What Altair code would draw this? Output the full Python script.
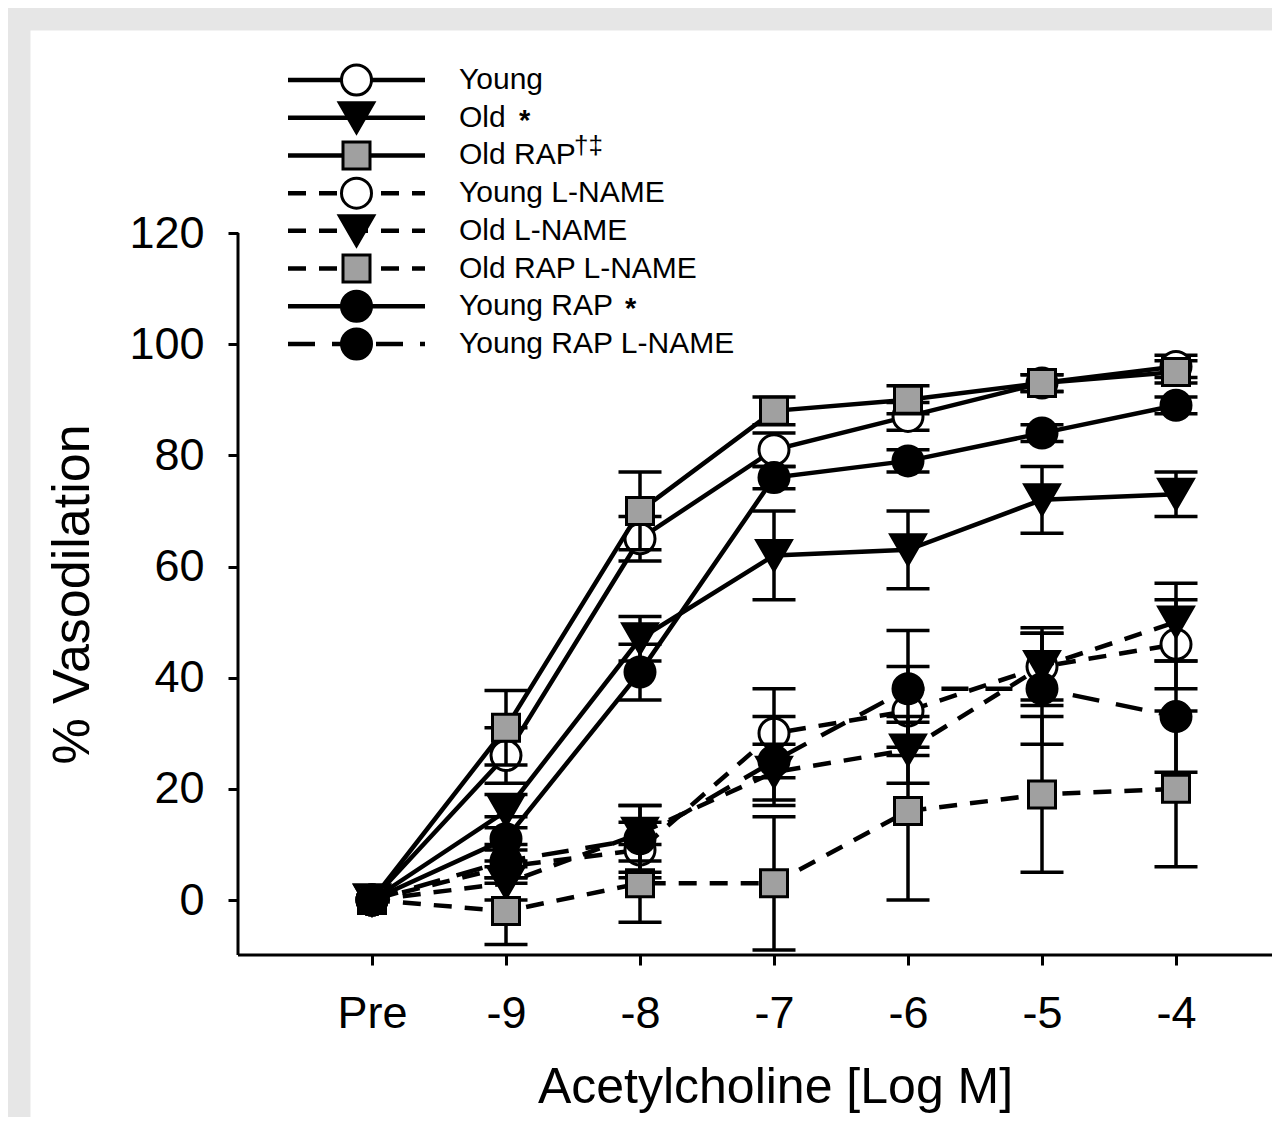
import json
import altair as alt
import pandas as pd

# ---------------- data ----------------
categories = ["Pre", "-9", "-8", "-7", "-6", "-5", "-4"]

series_names = ["Young", "Old", "Old RAP", "Young L-NAME", "Old L-NAME",
                "Old RAP L-NAME", "Young RAP", "Young RAP L-NAME"]
legend_labels = ["Young", "Old", "Old RAP", "Young L-NAME", "Old L-NAME",
                 "Old RAP L-NAME", "Young RAP", "Young RAP L-NAME"]
legend_marks = ["", "*", "\u2020\u2021", "", "", "", "*", ""]

young = [0, 26, 65, 81, 87, 93, 96]
young_se = [0, 5, 4, 3, 2.5, 1.5, 2]
old = [0, 16, 47, 62, 63, 72, 73]
old_se = [0, 3, 4, 8, 7, 6, 4]
old_rap = [0, 31, 70, 88, 90, 93, 95]
old_rap_se = [0, 6.7, 7, 2.5, 2.5, 1.5, 2]
young_lname = [0, 6, 9, 30, 34, 42, 46]
young_lname_se = [0, 3, 5, 8, 8, 7, 8]
old_lname = [0, 3, 12, 23, 27, 42, 50]
old_lname_se = [0, 3, 5, 5, 6, 6, 7]
old_rap_lname = [0, -2, 3, 3, 16, 19, 20]
old_rap_lname_se = [0, 6, 7, 12, 16, 14, 14]
young_rap = [0, 11, 41, 76, 79, 84, 89]
young_rap_se = [0, 4, 5, 2, 2, 1.5, 1.5]
young_rap_lname = [0, 7, 11, 25, 38, 38, 33]
young_rap_lname_se = [0, 3, 6, 8, 10.5, 10, 10]

values = [young, old, old_rap, young_lname, old_lname, old_rap_lname, young_rap, young_rap_lname]
errors = [young_se, old_se, old_rap_se, young_lname_se, old_lname_se, old_rap_lname_se,
          young_rap_se, young_rap_lname_se]

# ---------------- styles ----------------
GRAY = "#a0a0a0"
SHORT = [18, 13]
LONG = [27, 17]
styles = [
    dict(shape="circle", fill="white", dash=None, size=900),
    dict(shape="triangle-down", fill="black", dash=None, size=1200),
    dict(shape="square", fill=GRAY, dash=None, size=729),
    dict(shape="circle", fill="white", dash=SHORT, size=900),
    dict(shape="triangle-down", fill="black", dash=SHORT, size=1200),
    dict(shape="square", fill=GRAY, dash=SHORT, size=729),
    dict(shape="circle", fill="black", dash=None, size=900),
    dict(shape="circle", fill="black", dash=LONG, size=900),
]

FONT = "Liberation Sans"

# ---------------- layout ----------------
PLOT_W, PLOT_H = 1242, 1087
PAD_L, PAD_T = 22, 22
X0_PX, X_STEP = 342, 134          # position of "Pre" and step between doses
Y0_PX, Y_PER = 870, 667 / 120     # position of 0 % and pixels per unit
x_dom = [-X0_PX / X_STEP, (PLOT_W - X0_PX) / X_STEP]
y_dom = [(Y0_PX - PLOT_H) / Y_PER, Y0_PX / Y_PER]
X_AXIS_AT = -9.9
Y_AXIS_AT = -1
Y_TOP = 120
x_axis_px = Y0_PX - X_AXIS_AT * Y_PER
y_axis_px = X0_PX + Y_AXIS_AT * X_STEP
y_top_px = Y0_PX - Y_TOP * Y_PER
x_axis_len = PLOT_W - y_axis_px + 40

xs = alt.Scale(domain=x_dom, nice=False, zero=False)
ys = alt.Scale(domain=y_dom, nice=False, zero=False)

label_expr = json.dumps(categories) + "[datum.value]"
x_axis = alt.Axis(values=list(range(len(categories))), labelExpr=label_expr,
                  title="Acetylcholine [Log M]", domain=False, grid=False,
                  tickSize=10, tickWidth=3, tickColor="black",
                  labelFont=FONT, labelFontSize=45, labelColor="black",
                  labelPadding=26, labelAngle=0, labelFlush=False, labelOverlap=False,
                  titleFont=FONT, titleFontSize=50, titleFontWeight="normal",
                  titleColor="black", titleAlign="center", titleBaseline="middle",
                  titleX=y_axis_px + x_axis_len / 2, titleY=132,
                  offset=x_axis_px - PLOT_H)
y_axis = alt.Axis(values=[0, 20, 40, 60, 80, 100, 120], format="d",
                  title="% Vasodilation", domain=False, grid=False,
                  tickSize=10, tickWidth=3, tickColor="black",
                  labelFont=FONT, labelFontSize=45, labelColor="black",
                  labelPadding=24, labelFlush=False, labelOverlap=False,
                  titleFont=FONT, titleFontSize=52, titleFontWeight="normal",
                  titleColor="black", titleAlign="center", titleBaseline="middle",
                  titleAngle=270, titleX=-166,
                  titleY=(y_top_px + x_axis_px) / 2,
                  offset=-y_axis_px)

X = alt.X("idx:Q", scale=xs, axis=x_axis)


def Y(field):
    return alt.Y(field, scale=ys, axis=y_axis)


layers = []
for name, vals, se, st in zip(series_names, values, errors, styles):
    df = pd.DataFrame({
        "idx": list(range(len(categories))),
        "v": vals,
        "lo": [a - b for a, b in zip(vals, se)],
        "hi": [a + b for a, b in zip(vals, se)],
        "se": se,
    })
    line_kw = dict(color="black", strokeWidth=4.5)
    if st["dash"]:
        line_kw["strokeDash"] = st["dash"]
    layers.append(alt.Chart(df).mark_line(**line_kw).encode(x=X, y=Y("v:Q")))
    eb = alt.Chart(df).transform_filter("datum.se > 0")
    layers.append(eb.mark_rule(color="black", strokeWidth=3.5)
                  .encode(x=X, y=Y("lo:Q"), y2="hi:Q"))
    for f in ["lo:Q", "hi:Q"]:
        layers.append(eb.mark_tick(orient="horizontal", color="black", size=43,
                                   thickness=3.5, opacity=1)
                      .encode(x=X, y=Y(f)))
    layers.append(alt.Chart(df).mark_point(shape=st["shape"], size=st["size"],
                                           filled=True, fill=st["fill"], stroke="black",
                                           strokeWidth=3, opacity=1, fillOpacity=1)
                  .encode(x=X, y=Y("v:Q")))

# axis lines
ax_df = pd.DataFrame({"x": [Y_AXIS_AT], "x2": [x_dom[1]], "y": [X_AXIS_AT], "y2": [Y_TOP]})
layers.append(alt.Chart(ax_df).mark_rule(color="black", strokeWidth=3)
              .encode(x=alt.X("x:Q", scale=xs, axis=x_axis), x2="x2:Q", y=Y("y:Q")))
layers.append(alt.Chart(ax_df).mark_rule(color="black", strokeWidth=3)
              .encode(x=alt.X("x:Q", scale=xs, axis=x_axis), y=Y("y:Q"), y2="y2:Q"))

main = alt.layer(*layers)

# ---------------- legend ----------------
leg_x = alt.Scale(domain=[0, 1], range=[258, 395])
leg_y = alt.Scale(domain=[0, 7], range=[50, 314])
LX = lambda f: alt.X(f, scale=leg_x, axis=None)
LY = lambda f: alt.Y(f, scale=leg_y, axis=None)
leg_layers = []
for i, (lab, st) in enumerate(zip(legend_labels, styles)):
    d = pd.DataFrame({"row": [i], "a": [0], "b": [1], "m": [0.5], "label": [lab]})
    kw = dict(color="black", strokeWidth=4.5)
    if st["dash"]:
        kw["strokeDash"] = st["dash"]
    leg_layers.append(alt.Chart(d).mark_rule(**kw).encode(
        x=LX("a:Q"), x2="b:Q", y=LY("row:Q")))
    leg_layers.append(alt.Chart(d).mark_point(shape=st["shape"], size=st["size"],
                                              filled=True, fill=st["fill"], stroke="black",
                                              strokeWidth=3, opacity=1, fillOpacity=1).encode(
        x=LX("m:Q"), y=LY("row:Q")))
    leg_layers.append(alt.Chart(d).mark_text(align="left", baseline="middle", dx=34,
                                             font=FONT, fontSize=30, color="black").encode(
        x=LX("b:Q"), y=LY("row:Q"), text="label:N"))

# significance marks next to the legend labels
ast = pd.DataFrame({"row": [1], "b": [1], "label": [legend_marks[1]]})
leg_layers.append(alt.Chart(ast).mark_text(align="left", baseline="middle", dx=94, dy=3,
                                           font=FONT, fontSize=29, fontWeight="bold",
                                           color="black").encode(
    x=LX("b:Q"), y=LY("row:Q"), text="label:N"))
ast2 = pd.DataFrame({"row": [6], "b": [1], "label": [legend_marks[6]]})
leg_layers.append(alt.Chart(ast2).mark_text(align="left", baseline="middle", dx=200, dy=3,
                                            font=FONT, fontSize=29, fontWeight="bold",
                                            color="black").encode(
    x=LX("b:Q"), y=LY("row:Q"), text="label:N"))
sup = pd.DataFrame({"row": [2], "b": [1], "label": [legend_marks[2]]})
leg_layers.append(alt.Chart(sup).mark_text(align="left", baseline="middle", dx=149, dy=-9,
                                           font=FONT, fontSize=26, color="black").encode(
    x=LX("b:Q"), y=LY("row:Q"), text="label:N"))

legend = alt.layer(*leg_layers)

chart = (alt.layer(main, legend)
         .resolve_scale(x="independent", y="independent")
         .properties(width=PLOT_W, height=PLOT_H,
                     autosize=alt.AutoSizeParams(type="none"),
                     padding={"left": PAD_L, "top": PAD_T, "right": 0, "bottom": 0},
                     background="#e6e6e6")
         .configure_view(fill="white", stroke="transparent"))

chart.save("out.html", embed_options={"renderer": "svg", "actions": False})
